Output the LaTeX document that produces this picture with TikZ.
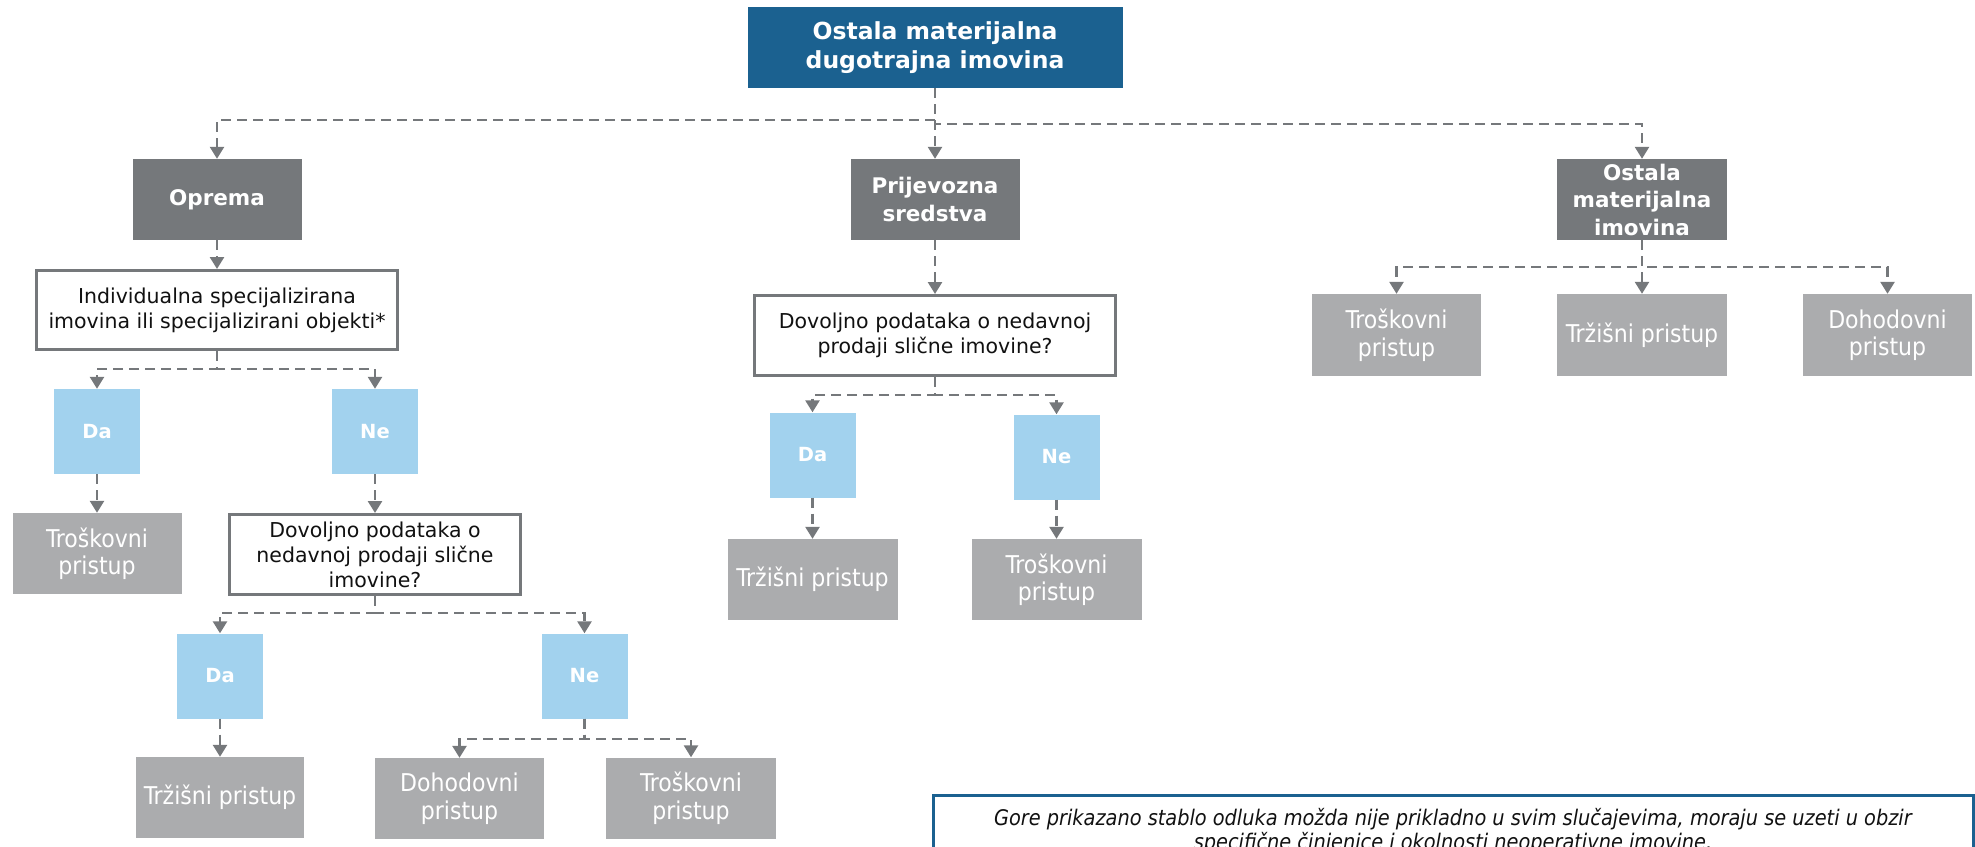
\documentclass[tikz,border=0pt]{standalone}
\usepackage{fontspec}
\setmainfont{DejaVu Sans}
\newfontfamily\condfont{DejaVu Sans Condensed}
\usetikzlibrary{arrows.meta}

\definecolor{cBlue}{HTML}{1B6190}
\definecolor{cDark}{HTML}{75787B}
\definecolor{cLight}{HTML}{ABACAE}
\definecolor{cSky}{HTML}{A2D2EE}
\definecolor{cLine}{HTML}{75787B}
\definecolor{cInk}{HTML}{111111}

\tikzset{
  boxbase/.style={rectangle, inner sep=0pt, align=center, minimum height=81pt},
  topbox/.style={boxbase, fill=cBlue, text=white, minimum width=375pt,
    font=\bfseries\fontsize{23.5}{29}\selectfont},
  catbox/.style={boxbase, fill=cDark, text=white, minimum width=169pt,
    font=\bfseries\fontsize{21.5}{27.5}\selectfont},
  askbox/.style={boxbase, fill=white, draw=cDark, line width=3pt, text=cInk,
    font=\fontsize{20.5}{25}\selectfont},
  ansbox/.style={boxbase, fill=cSky, text=white, minimum width=86pt, minimum height=85pt,
    font=\bfseries\fontsize{19.5}{23}\selectfont},
  methbox/.style={boxbase, fill=cLight, text=white, minimum width=169pt,
    font=\condfont\fontsize{24.5}{27.5}\selectfont},
  conn/.style={draw=cLine, line width=2.6pt, dash pattern=on 10pt off 6pt,
    -{Triangle[length=12pt,width=14pt]}},
  notebox/.style={rectangle, draw=cBlue, line width=3pt, fill=white, text=cInk,
    minimum width=1040pt, inner xsep=0pt, inner ysep=13pt, align=center,
    font=\condfont\itshape\fontsize{21.5}{24}\selectfont},
}

\begin{document}
\begin{tikzpicture}[x=1pt, y=-1pt]
\useasboundingbox (0,0) rectangle (1975,846);

% root and the three asset groups
\node[topbox] (top) at (935,47.5) {Ostala materijalna\\dugotrajna imovina};
\node[catbox] (oprema) at (217,199.5) {Oprema};
\node[catbox] (prij) at (935,199.5) {Prijevozna\\sredstva};
\node[catbox, minimum width=170pt] (ostala) at (1642,199.5) {Ostala\\materijalna\\imovina};

% equipment branch
\node[askbox, minimum width=361pt, minimum height=79pt] (ind) at (217,310)
  {Individualna specijalizirana\\imovina ili specijalizirani objekti*};
\node[ansbox] (da1) at (97,431.5) {Da};
\node[ansbox] (ne1) at (375,431.5) {Ne};
\node[methbox] (tros1) at (97,553.5) {Troškovni\\pristup};
\node[askbox, minimum width=291pt, minimum height=80pt] (dov1) at (375,554.5)
  {Dovoljno podataka o\\nedavnoj prodaji slične\\imovine?};
\node[ansbox] (da2) at (220,676) {Da};
\node[ansbox] (ne2) at (584.5,676) {Ne};
\node[methbox, minimum width=168pt] (trz2) at (220,797.5) {Tržišni pristup};
\node[methbox] (doh2) at (459.5,798.5) {Dohodovni\\pristup};
\node[methbox, minimum width=170pt] (tros2) at (691,798) {Troškovni\\pristup};

% transport branch
\node[askbox, minimum width=361pt, minimum height=80pt] (dov2) at (935,335.5)
  {Dovoljno podataka o nedavnoj\\prodaji slične imovine?};
\node[ansbox] (da3) at (812.5,455) {Da};
\node[ansbox] (ne3) at (1056.5,457) {Ne};
\node[methbox, minimum width=170pt] (trz3) at (812.5,579.5) {Tržišni pristup};
\node[methbox, minimum width=170pt] (tros3) at (1056.5,579.5) {Troškovni\\pristup};

% other tangible assets branch
\node[methbox, minimum height=82pt] (tros4) at (1396.5,335) {Troškovni\\pristup};
\node[methbox, minimum width=170pt, minimum height=82pt] (trz4) at (1642,335) {Tržišni pristup};
\node[methbox, minimum height=82pt] (doh4) at (1887.5,335) {Dohodovni\\pristup};

% junction points of the branching connectors
\coordinate (jtopL) at (935,120);
\coordinate (jtopR) at (935,124);
\coordinate (jind) at (217,369);
\coordinate (jdov1) at (375,613);
\coordinate (jne2) at (584.5,739);
\coordinate (jdov2) at (935,395);
\coordinate (jost) at (1642,267);

% connectors
\draw[conn] (top.south) -- (jtopL) -| (oprema.north);
\draw[conn] (top.south) -- (prij.north);
\draw[conn] (top.south) -- (jtopR) -| (ostala.north);

\draw[conn] (oprema.south) -- (ind.north);
\draw[conn] (ind.south) -- (jind) -| (da1.north);
\draw[conn] (ind.south) -- (jind) -| (ne1.north);
\draw[conn] (da1.south) -- (tros1.north);
\draw[conn] (ne1.south) -- (dov1.north);
\draw[conn] (dov1.south) -- (jdov1) -| (da2.north);
\draw[conn] (dov1.south) -- (jdov1) -| (ne2.north);
\draw[conn] (da2.south) -- (trz2.north);
\draw[conn] (ne2.south) -- (jne2) -| (doh2.north);
\draw[conn] (ne2.south) -- (jne2) -| (tros2.north);

\draw[conn] (prij.south) -- (dov2.north);
\draw[conn] (dov2.south) -- (jdov2) -| (da3.north);
\draw[conn] (dov2.south) -- (jdov2) -| (ne3.north);
\draw[conn] (da3.south) -- (trz3.north);
\draw[conn] (ne3.south) -- (tros3.north);

\draw[conn] (ostala.south) -- (jost) -| (tros4.north);
\draw[conn] (ostala.south) -- (trz4.north);
\draw[conn] (ostala.south) -- (jost) -| (doh4.north);

% footnote box, running past the lower edge
\begin{scope}
\clip (0,0) rectangle (1975,846);
\node[notebox, anchor=north] (note) at (1453,793.5)
  {Gore prikazano stablo odluka možda nije prikladno u svim slučajevima, moraju se uzeti u obzir\\
   specifične činjenice i okolnosti neoperativne imovine.};
\end{scope}
\end{tikzpicture}
\end{document}
